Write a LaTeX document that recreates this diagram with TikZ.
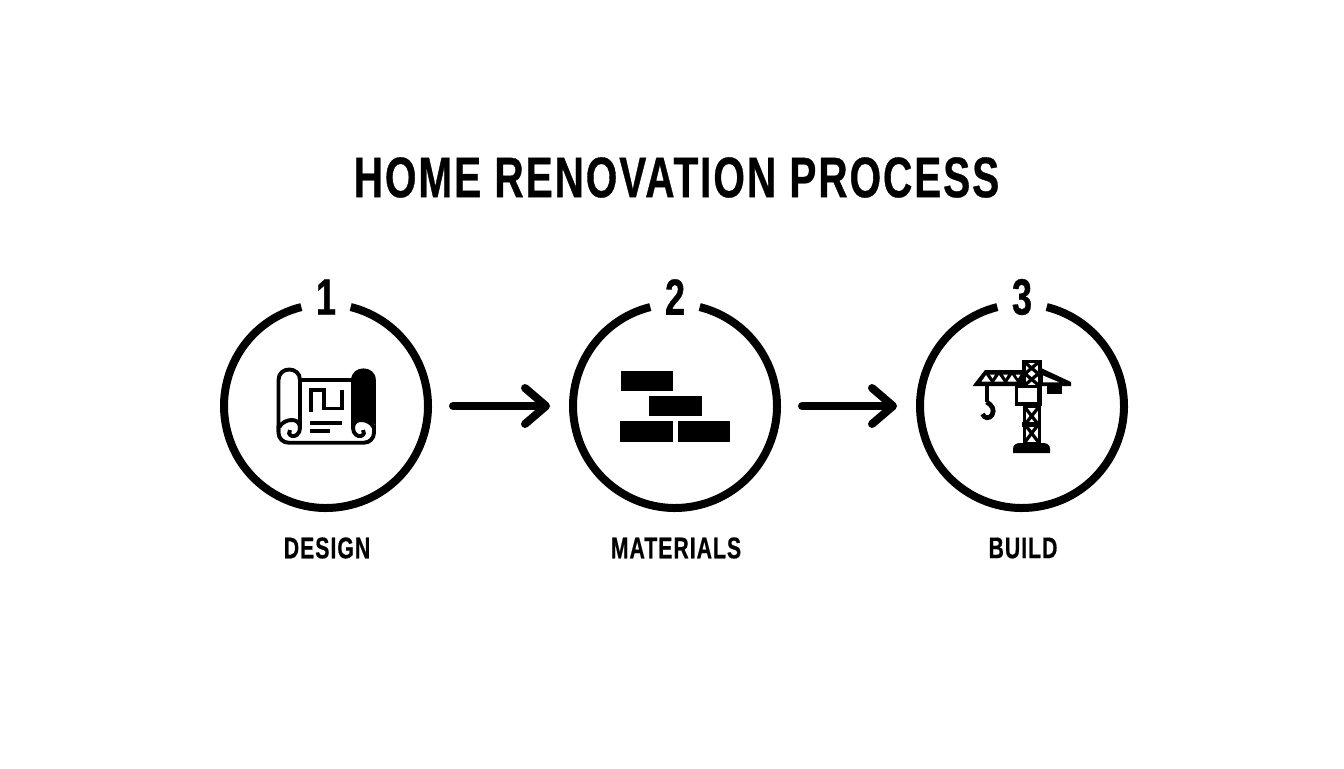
\documentclass[tikz,border=0pt]{standalone}
\usepackage{fontspec}
\usetikzlibrary{arrows.meta}
\newfontfamily\narrowfont[FakeStretch=0.71,LetterSpace=3.4,BoldFont={Liberation Sans Bold},BoldFeatures={FakeBold=0.6}]{Liberation Sans}
\tikzset{
  ringbox/.style={circle,minimum size=4.08cm,inner sep=0pt,outer sep=0pt},
  ringline/.style={line width=0.16cm},
  stepline/.style={line width=0.16cm,line cap=round,shorten <=0.5cm,shorten >=0.46cm,-{Straight Barb[length=0.42cm,width=0.72cm,round]}},
  titletext/.style={font=\narrowfont\bfseries\fontsize{32.5}{36}\selectfont,inner sep=0pt},
  numtext/.style={font=\narrowfont\bfseries\fontsize{29}{32}\selectfont,inner sep=0pt},
  steptext/.style={font=\narrowfont\bfseries\fontsize{17}{20}\selectfont,inner sep=0pt},
  iconline/.style={line width=0.078cm},
  gapline/.style={line width=0.085cm},
  trussline/.style={line width=0.065cm}
}
\begin{document}
\begin{tikzpicture}[x=0.02cm,y=-0.02cm]
    \useasboundingbox (0,0) rectangle (1344,768);
    \node[titletext] (title) at (676.5,177.5) {HOME RENOVATION PROCESS};

\foreach \i/\x/\name in {1/326/DESIGN,2/675/MATERIALS,3/1022/BUILD} {
    \node[ringbox] (ring\i) at (\x,406) {};
    \draw[ringline] (ring\i.104) arc[start angle=104,end angle=436,radius=2.04cm];
    \node[numtext] (num\i) at (\x,297) {\i};
    \node[steptext] (label\i) at (\x+1,548) {\name};
}
    \draw[stepline] (ring1) -- (ring2);
    \draw[stepline] (ring2) -- (ring3);

    % design
    \draw[iconline] (300,428) -- (300,380) .. controls (300,366) and (278.5,366) .. (278.5,380) -- (278.5,432);
    \draw[iconline] (300,380) -- (353,380);
    \draw[iconline,rounded corners=0.2cm] (278.5,425) -- (278.5,442.7) -- (374,442.7) -- (374,425);
    \fill (351.2,380) .. controls (351.2,364.5) and (375.8,364.5) .. (375.8,380) -- (375.8,426)
        .. controls (372,420) and (358,416) .. (351.2,428) -- cycle;
    \draw[iconline] (279.5,427) .. controls (283,419) and (300,416) .. (300,428)
        .. controls (300,434) and (295,437) .. (292,436) .. controls (289,435) and (288,432) .. (290,430);
    \draw[iconline] (373.5,427) .. controls (370,419) and (353,416) .. (353,428)
        .. controls (353,434) and (358,437) .. (361,436) .. controls (364,435) and (365,432) .. (363,430);
    \draw[line width=0.075cm] (310.7,411.7) -- (310.7,390) -- (324,390) -- (324,408.5) -- (341.7,408.5) -- (341.7,390);
    \draw[gapline] (310,422.7) -- (342,422.7);
    \draw[gapline] (310,430.7) -- (330,430.7);

    % materials
\foreach \a/\b/\c/\d in {620.7/370.7/673.3/390.7,649.3/396/702/416,620/421.3/672.7/441.7,677.7/421.3/730.3/441.7}
    \fill (\a,\b) rectangle (\c,\d);

    % build
    \fill (972.5,386) -- (985,370) -- (1022,370) -- (1022,386) -- cycle;
    \fill (1041,368) -- (1071,382) -- (1071,386) -- (1041,386) -- cycle;
    \fill[white] (1043,375.5) -- (1059,382.3) -- (1043,382.3) -- cycle;
\foreach \x in {986,999,1012}
    \fill[white] (\x-4.5,381.5) -- (\x,375) -- (\x+4.5,381.5) -- cycle;
\foreach \x in {992.5,1005.5,1018}
    \fill[white] (\x-2.5,374.5) -- (\x+2.5,374.5) -- (\x,378.5) -- cycle;
    \fill (1046.7,385) rectangle (1061.7,394.3);
    \fill (1021.7,360) rectangle (1041.7,406);
    \fill (1022.7,405) rectangle (1040.7,444);
    \fill (1013,453) -- (1013,449) .. controls (1013,445) and (1016,443) .. (1020,443) -- (1043,443) .. controls (1047,443) and (1050,445) .. (1050,449) -- (1050,453) -- cycle;
    \fill[white] (1025.5,363) rectangle (1037.8,385);
    \fill[white] (1025.5,407.5) rectangle (1037.8,442);
    \draw[trussline] (1025,362.5) -- (1038.3,373.7) -- (1025,385);
    \draw[trussline] (1038.3,362.5) -- (1025,373.7) -- (1038.3,385);
\foreach \a/\b in {407.5/424.5,424.5/442} {
    \draw[trussline] (1025,\a) -- (1038.3,\b);
    \draw[trussline] (1038.3,\a) -- (1025,\b);
}
    \draw[gapline] (1022,424.5) -- (1041,424.5);
    \fill (1014.5,385) rectangle (1039,405.5);
    \fill[white] (1017.5,387.5) rectangle (1037,401.7);
    \draw[line width=0.08cm] (986.7,383) -- (986.7,402);
    \draw[line width=0.095cm] (986.7,402) .. controls (992,405) and (995,410) .. (992,415) .. controls (989.5,419) and (984,418.5) .. (982.5,414);
\end{tikzpicture}
\end{document}
